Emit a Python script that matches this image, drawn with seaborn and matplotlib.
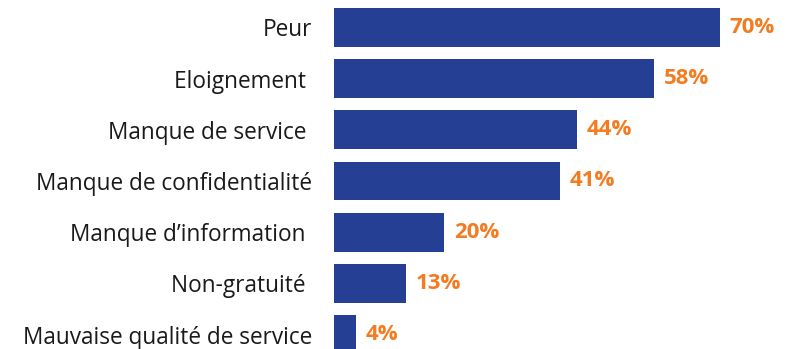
import matplotlib
matplotlib.use("Agg")
import matplotlib.pyplot as plt
import seaborn as sns
import pandas as pd

categories = [
    "Peur",
    "Eloignement ",
    "Manque de service ",
    "Manque de confidentialité",
    "Manque d’information ",
    "Non-gratuité ",
    "Mauvaise qualité de service",
]
values = [70, 58, 44, 41, 20, 13, 4]

bar_color = "#243F93"
label_color = "#F47B20"

sns.set_theme(style="white")
plt.rcParams["font.family"] = ["Open Sans", "DejaVu Sans"]

df = pd.DataFrame({"raison": categories, "pct": values})

fig = plt.figure(figsize=(7.97, 3.49), dpi=100)
ax = fig.add_axes([334 / 797, -0.0318, 463 / 797, 1.0264])

sns.barplot(data=df, x="pct", y="raison", orient="h", color=bar_color,
            saturation=1, width=0.76, linewidth=0, ax=ax)

ax.set_xlim(0, 84)
ax.set_ylim(6.5, -0.5)
ax.set_xlabel("")
ax.set_ylabel("")
ax.set_xticks([])
for s in ax.spines.values():
    s.set_visible(False)
ax.tick_params(axis="y", length=0, pad=16, labelsize=16.3, labelcolor="#1a1a1a")

ax.bar_label(ax.containers[0], labels=[f"{v}%" for v in values], padding=7,
             color=label_color, fontsize=16, fontweight="bold")

fig.savefig("out.png", dpi=100)
